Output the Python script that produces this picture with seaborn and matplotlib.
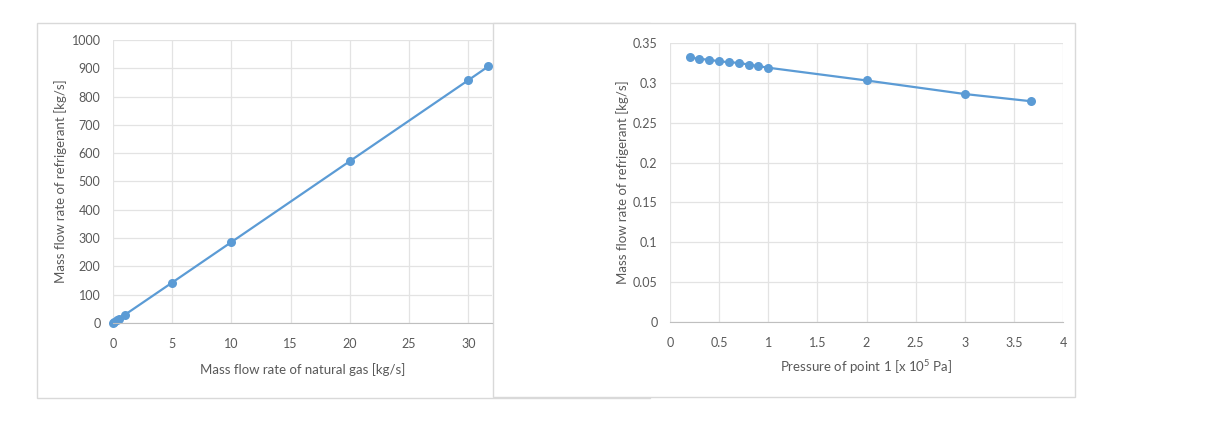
import numpy as np
import pandas as pd
import matplotlib.pyplot as plt
from matplotlib.patches import Rectangle
import seaborn as sns

# datos
gas_flow = [0, 0.1, 0.3, 0.5, 1, 5, 10, 20, 30, 31.7]
refrig_flow_a = [0, 3, 9, 14, 29, 143, 286, 572, 858, 907]

pressure = [0.2, 0.3, 0.4, 0.5, 0.6, 0.7, 0.8, 0.9, 1.0, 2.0, 3.0, 3.67]
refrig_flow_b = [0.332, 0.330, 0.329, 0.327, 0.326, 0.325, 0.323, 0.321, 0.319, 0.303, 0.286, 0.277]

left_xticks = [0, 5, 10, 15, 20, 25, 30]
left_yticks = [0, 100, 200, 300, 400, 500, 600, 700, 800, 900, 1000]
right_xticks = [0, 0.5, 1, 1.5, 2, 2.5, 3, 3.5, 4]
right_xlabels = ["0", "0.5", "1", "1.5", "2", "2.5", "3", "3.5", "4"]
right_yticks = [0, 0.05, 0.1, 0.15, 0.2, 0.25, 0.3, 0.35]
right_ylabels = ["0", "0.05", "0.1", "0.15", "0.2", "0.25", "0.3", "0.35"]

sns.set_style("white")
plt.rcParams['font.family'] = ['Lato', 'DejaVu Sans']

azul = '#5B9BD5'
gris_txt = '#595959'
gris_grid = '#E3E3E3'

W, H = 1212, 426
fig = plt.figure(figsize=(W / 100, H / 100), dpi=100)

# marcos de cada grafico (estilo Excel)
def px_rect(x0, y0, x1, y1, z):
    return Rectangle((x0 / W, 1 - y1 / H), (x1 - x0) / W, (y1 - y0) / H,
                     transform=fig.transFigure, facecolor='white',
                     edgecolor='#D9D9D9', linewidth=1, zorder=z)

fig.patches.append(px_rect(37, 23, 650, 398, 0))
fig.patches.append(px_rect(493, 23, 1075, 397, 0.5))

def estilo(ax):
    ax.set_facecolor('none')
    for s in ['top', 'right', 'left']:
        ax.spines[s].set_visible(False)
    ax.spines['bottom'].set_color('#BFBFBF')
    ax.grid(True, color=gris_grid, linewidth=0.9)
    ax.set_axisbelow(True)
    ax.tick_params(length=0, labelsize=9, labelcolor=gris_txt)
    ax.tick_params(axis='x', pad=11)
    ax.tick_params(axis='y', pad=9)

# --- Grafico izquierdo ---
ax1 = fig.add_axes([113 / W, 1 - 323 / H, (492 - 113) / W, (323 - 40) / H])
ax1.set_zorder(2)
df1 = pd.DataFrame({'gas': gas_flow, 'ref': refrig_flow_a})
sns.lineplot(data=df1, x='gas', y='ref', ax=ax1, color=azul, linewidth=1.6,
             marker='o', markersize=6.5, markeredgewidth=0, clip_on=False)
ax1.set_xlim(0, 32)
ax1.set_ylim(0, 1000)
ax1.set_xticks(left_xticks)
ax1.set_yticks(left_yticks)
estilo(ax1)
ax1.set_xlabel("Mass flow rate of natural gas [kg/s]", fontsize=9.5, color=gris_txt, labelpad=9)
ax1.set_ylabel("Mass flow rate of refrigerant [kg/s]", fontsize=9.5, color=gris_txt, labelpad=3)

# --- Grafico derecho ---
ax2 = fig.add_axes([670 / W, 1 - 322 / H, (1063 - 670) / W, (322 - 43) / H])
ax2.set_zorder(3)
df2 = pd.DataFrame({'p': pressure, 'ref': refrig_flow_b})
sns.lineplot(data=df2, x='p', y='ref', ax=ax2, color=azul, linewidth=1.6,
             marker='o', markersize=6.5, markeredgewidth=0, clip_on=False)
ax2.set_xlim(0, 4)
ax2.set_ylim(0, 0.35)
ax2.set_xticks(right_xticks)
ax2.set_xticklabels(right_xlabels)
ax2.set_yticks(right_yticks)
ax2.set_yticklabels(right_ylabels)
estilo(ax2)
ax2.set_xlabel("Pressure of point 1 [x 10$^{\\mathregular{5}}$ Pa]", fontsize=9.5, color=gris_txt, labelpad=6)
ax2.set_ylabel("Mass flow rate of refrigerant [kg/s]", fontsize=9.5, color=gris_txt, labelpad=3)

fig.savefig("out.png", dpi=100, facecolor='white')
